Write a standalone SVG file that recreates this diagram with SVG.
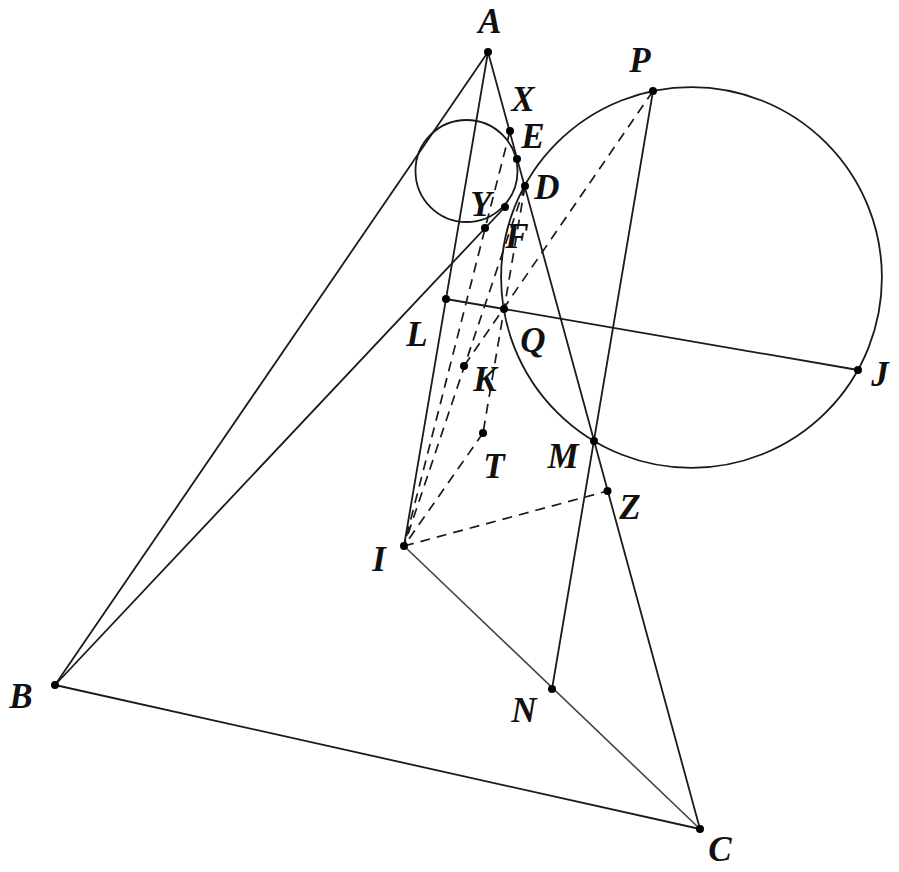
<svg xmlns="http://www.w3.org/2000/svg" width="899" height="872" viewBox="0 0 899 872">
<style>
.s{stroke:#1a1a1a;stroke-width:1.8;fill:none}
.g{stroke:#444;stroke-width:1.6;fill:none}
.d{stroke:#1a1a1a;stroke-width:1.7;fill:none;stroke-dasharray:10 7}
.p{fill:#000}
text{font-family:"Liberation Serif","Times New Roman",serif;font-weight:bold;font-style:italic;font-size:35px;fill:#111;text-anchor:middle}
</style>
<rect width="899" height="872" fill="#fff"/>
<g id="connectors">
<line class="s" x1="488" y1="52" x2="55" y2="685"/>
<line class="s" x1="488" y1="52" x2="700" y2="829"/>
<line class="s" x1="55" y1="685" x2="700" y2="829"/>
<line class="s" x1="488" y1="52" x2="404" y2="546"/>
<line class="g" x1="404" y1="546" x2="700" y2="829"/>
<line class="s" x1="55" y1="685" x2="505" y2="207"/>
<line class="s" x1="446" y1="299" x2="858" y2="370"/>
<line class="s" x1="653" y1="91" x2="552" y2="689"/>
<circle class="s" cx="466.5" cy="171" r="51"/>
<circle class="s" cx="691.5" cy="277.5" r="190.4"/>
<line class="d" x1="653" y1="91" x2="464" y2="366"/>
<line class="d" x1="510" y1="131" x2="404" y2="546"/>
<line class="d" x1="525" y1="186" x2="404" y2="546"/>
<line class="d" x1="525" y1="186" x2="483" y2="433"/>
<line class="d" x1="483" y1="433" x2="404" y2="546"/>
<line class="d" x1="404" y1="546" x2="607.5" y2="491"/>
</g>
<g id="A"><circle class="p" cx="488" cy="52" r="4"/><text x="490" y="33">A</text></g>
<g id="B"><circle class="p" cx="55" cy="685" r="4"/><text x="21" y="708">B</text></g>
<g id="C"><circle class="p" cx="700" cy="829" r="4"/><text x="720" y="861">C</text></g>
<g id="I"><circle class="p" cx="404" cy="546" r="4"/><text x="379" y="571">I</text></g>
<g id="N"><circle class="p" cx="552" cy="689" r="4"/><text x="524" y="722">N</text></g>
<g id="M"><circle class="p" cx="594" cy="441" r="4"/><text x="563" y="468">M</text></g>
<g id="Z"><circle class="p" cx="607.5" cy="491" r="4"/><text x="630" y="519">Z</text></g>
<g id="J"><circle class="p" cx="858" cy="370" r="4"/><text x="880" y="386">J</text></g>
<g id="P"><circle class="p" cx="653" cy="91" r="4"/><text x="640" y="72">P</text></g>
<g id="Q"><circle class="p" cx="504" cy="309" r="4"/><text x="533" y="352">Q</text></g>
<g id="L"><circle class="p" cx="446" cy="299" r="4"/><text x="417" y="346">L</text></g>
<g id="K"><circle class="p" cx="464" cy="366" r="4"/><text x="485" y="391">K</text></g>
<g id="T"><circle class="p" cx="483" cy="433" r="4"/><text x="494" y="478">T</text></g>
<g id="X"><circle class="p" cx="510" cy="131" r="4"/><text x="523" y="111">X</text></g>
<g id="E"><circle class="p" cx="517" cy="159" r="4"/><text x="533" y="148">E</text></g>
<g id="D"><circle class="p" cx="525" cy="186" r="4"/><text x="547" y="199">D</text></g>
<g id="Y"><circle class="p" cx="505" cy="207" r="4"/><text x="481" y="216">Y</text></g>
<g id="F"><circle class="p" cx="485" cy="228" r="4"/><text x="517" y="248">F</text></g>
</svg>
